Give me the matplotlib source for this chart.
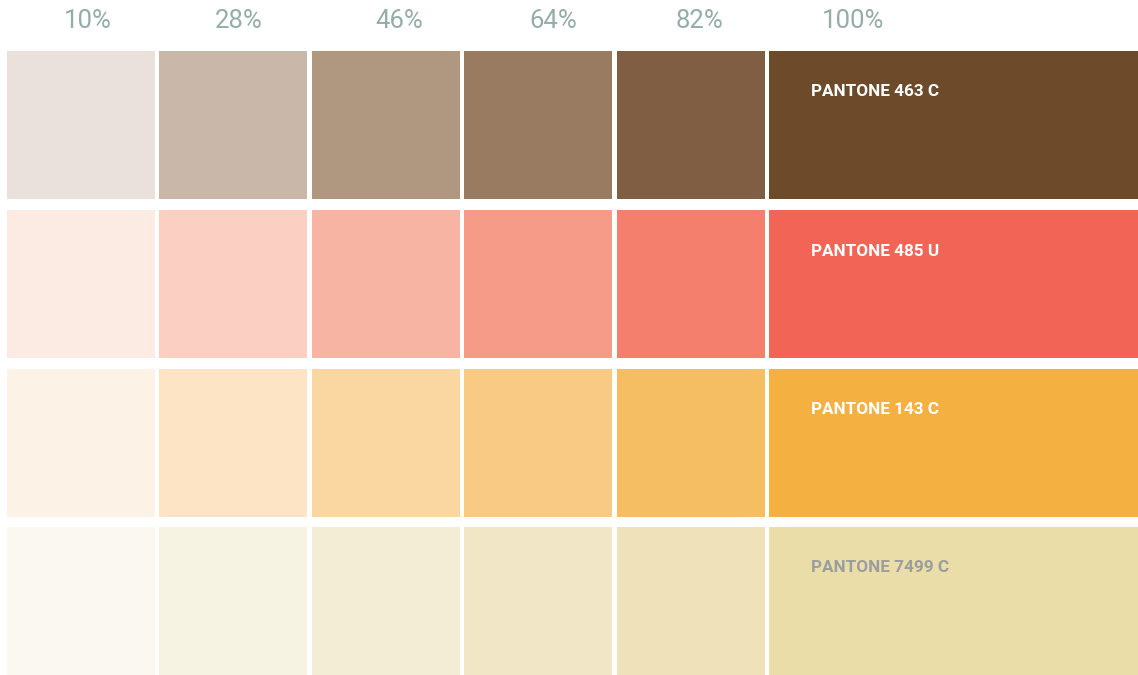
import matplotlib.pyplot as plt

tints = ["10%", "28%", "46%", "64%", "82%", "100%"]
pantone = ["PANTONE 463 C", "PANTONE 485 U", "PANTONE 143 C", "PANTONE 7499 C"]
swatches = [
    ["#EAE1DC", "#C9B8AA", "#B09780", "#997B61", "#7F5E43", "#6C4A2A"],
    ["#FBEBE3", "#FCCFC3", "#F8B4A3", "#F59B87", "#F47F6D", "#F26456"],
    ["#FCF3E6", "#FCE4C4", "#FAD6A0", "#F8CA84", "#F6BE62", "#F4B041"],
    ["#FAF8F1", "#F7F3E2", "#F4EDD5", "#F1E7C6", "#EFE2BB", "#EBDDA7"],
]
label_colors = ["white", "white", "white", "#9A9E9F"]

# layout (pixel units)
col_left = [7, 159, 312, 464, 617, 769]
col_width = [148, 148, 148, 148, 148, 369]
row_top = [51, 210, 369, 527]
row_h = 148
head_x = [88, 239, 399, 553, 700, 853]

fig = plt.figure(figsize=(11.38, 6.75), dpi=100)
ax = fig.add_axes([0, 0, 1, 1])
ax.set_xlim(0, 1138)
ax.set_ylim(675, 0)
ax.axis("off")

for r, row in enumerate(swatches):
    ax.bar(col_left, [row_h] * 6, width=col_width, bottom=row_top[r],
           align="edge", color=row, linewidth=0)
    ax.text(811, row_top[r] + 41, pantone[r], color=label_colors[r],
            fontsize=12.3, fontweight="bold", family="Roboto", va="center")

for x, t in zip(head_x, tints):
    ax.text(x, 21, t, color="#95ADA8", fontsize=18.5, family="Roboto",
            ha="center", va="center")

fig.savefig("out.png", dpi=100)
